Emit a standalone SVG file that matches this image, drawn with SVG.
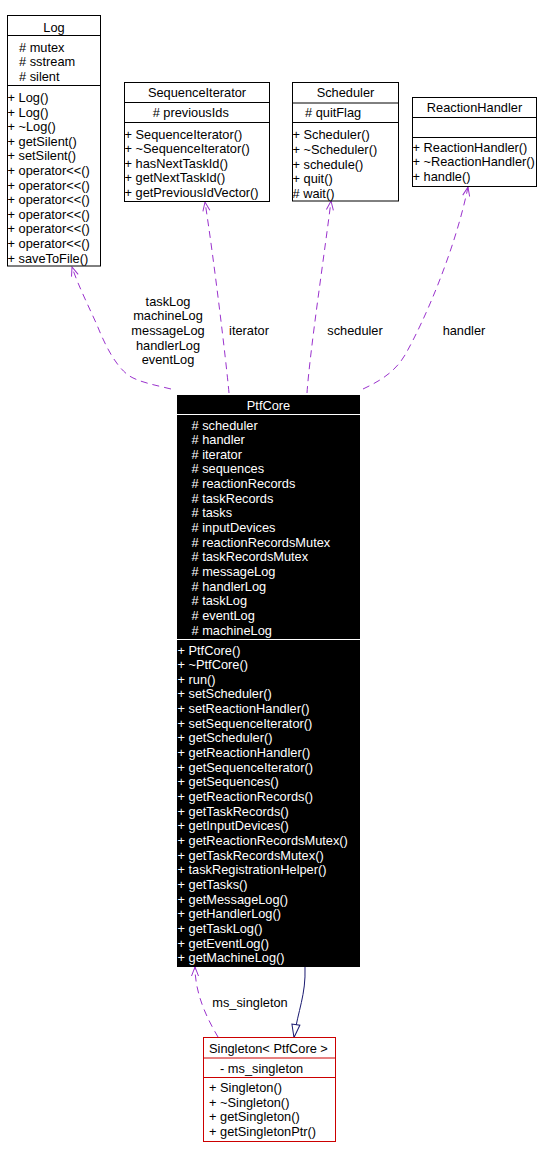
<svg xmlns="http://www.w3.org/2000/svg" width="550" height="1158" viewBox="0 0 550 1158">
<style>
text{font-family:"Liberation Sans",Arial,sans-serif;font-size:12.8px;fill:#000}
.c{text-anchor:middle}
.w{fill:#fff}
.box{fill:#fff;stroke:#000;stroke-width:1}
.sep{stroke:#000;stroke-width:1}
.wsep{stroke:#fff;stroke-width:1}
.dep{fill:none;stroke:#9a32cd;stroke-width:1;stroke-dasharray:7,5}
.inh{fill:none;stroke:#191970;stroke-width:1}
</style>
<defs>
<marker id="open" markerUnits="userSpaceOnUse" markerWidth="12" markerHeight="10" refX="9" refY="3.5" orient="auto" overflow="visible">
<path d="M0,0 L9,3.5 L0,7" fill="none" stroke="#9a32cd" stroke-width="1"/>
</marker>
<marker id="tri" markerUnits="userSpaceOnUse" markerWidth="16" markerHeight="12" refX="13" refY="4" orient="auto" overflow="visible">
<path d="M0,0 L13,4 L0,8 Z" fill="#fff" stroke="#191970" stroke-width="1"/>
</marker>
</defs>
<rect width="550" height="1158" fill="#fff"/>

<g id="connectors">
<path class="dep" d="M171,389 C155,385 138,382 128,375 C115,365 105,345 97,325 C88,305 78,285 72,267" marker-end="url(#open)"/>
<path class="dep" d="M229,393 C226,360 214,260 205,202" marker-end="url(#open)"/>
<path class="dep" d="M307,393 C310,350 325,250 331,201" marker-end="url(#open)"/>
<path class="dep" d="M363,389 C380,381 395,372 405,355 C425,320 455,250 468,187" marker-end="url(#open)"/>
<path class="dep" d="M218,1037 C208,1020 195,995 195,967" marker-end="url(#open)"/>
<path class="inh" d="M305,967 C306,995 298,1010 294,1037.5" marker-end="url(#tri)"/>
<g id="edge-labels">
<text class="c" x="168" y="305.5">taskLog</text>
<text class="c" x="168" y="320.2">machineLog</text>
<text class="c" x="168" y="334.9">messageLog</text>
<text class="c" x="168" y="349.6">handlerLog</text>
<text class="c" x="168" y="364.3">eventLog</text>
<text class="c" x="249" y="335">iterator</text>
<text class="c" x="355" y="335">scheduler</text>
<text class="c" x="464" y="335">handler</text>
<text class="c" x="250" y="1007">ms_singleton</text>
</g>
</g>

<g id="Log">
<rect class="box" x="7.5" y="15.5" width="93" height="250.5"/>
<line class="sep" x1="7.5" y1="35.5" x2="100.5" y2="35.5"/>
<line class="sep" x1="7.5" y1="85.5" x2="100.5" y2="85.5"/>
<text class="c" x="54" y="31.5">Log</text>
<text x="19" y="51.5"># mutex</text>
<text x="19" y="66.2"># sstream</text>
<text x="19" y="80.9"># silent</text>
<text x="7.5" y="102">+ Log()</text>
<text x="7.5" y="116.6">+ Log()</text>
<text x="7.5" y="131.2">+ ~Log()</text>
<text x="7.5" y="145.8">+ getSilent()</text>
<text x="7.5" y="160.4">+ setSilent()</text>
<text x="7.5" y="175">+ operator&lt;&lt;()</text>
<text x="7.5" y="189.6">+ operator&lt;&lt;()</text>
<text x="7.5" y="204.2">+ operator&lt;&lt;()</text>
<text x="7.5" y="218.8">+ operator&lt;&lt;()</text>
<text x="7.5" y="233.4">+ operator&lt;&lt;()</text>
<text x="7.5" y="248">+ operator&lt;&lt;()</text>
<text x="7.5" y="262.6">+ saveToFile()</text>
</g>

<g id="SequenceIterator">
<rect class="box" x="124.5" y="82.5" width="145" height="119"/>
<line class="sep" x1="124.5" y1="102.5" x2="269.5" y2="102.5"/>
<line class="sep" x1="124.5" y1="122.5" x2="269.5" y2="122.5"/>
<text class="c" x="197" y="96.8">SequenceIterator</text>
<text x="152.7" y="116.8"># previousIds</text>
<text x="124.5" y="138.5">+ SequenceIterator()</text>
<text x="124.5" y="153.1">+ ~SequenceIterator()</text>
<text x="124.5" y="167.7">+ hasNextTaskId()</text>
<text x="124.5" y="182.3">+ getNextTaskId()</text>
<text x="124.5" y="196.9">+ getPreviousIdVector()</text>
</g>

<g id="Scheduler">
<rect class="box" x="292.5" y="82.5" width="106" height="118.5"/>
<line class="sep" x1="292.5" y1="103" x2="398.5" y2="103"/>
<line class="sep" x1="292.5" y1="122.5" x2="398.5" y2="122.5"/>
<text class="c" x="345.5" y="97">Scheduler</text>
<text x="305" y="117"># quitFlag</text>
<text x="292.5" y="139.3">+ Scheduler()</text>
<text x="292.5" y="153.9">+ ~Scheduler()</text>
<text x="292.5" y="168.5">+ schedule()</text>
<text x="292.5" y="183.1">+ quit()</text>
<text x="292.5" y="197.7"># wait()</text>
</g>

<g id="ReactionHandler">
<rect class="box" x="412.5" y="97.5" width="124" height="89"/>
<line class="sep" x1="412.5" y1="117.5" x2="536.5" y2="117.5"/>
<line class="sep" x1="412.5" y1="137.5" x2="536.5" y2="137.5"/>
<text class="c" x="474.5" y="112">ReactionHandler</text>
<text x="412.5" y="151.5">+ ReactionHandler()</text>
<text x="412.5" y="166.1">+ ~ReactionHandler()</text>
<text x="412.5" y="180.7">+ handle()</text>
</g>

<g id="PtfCore">
<rect x="177" y="395" width="183" height="572" fill="#000"/>
<line class="wsep" x1="177" y1="414.5" x2="360" y2="414.5"/>
<line class="wsep" x1="177" y1="639.5" x2="360" y2="639.5"/>
<text class="c w" x="268.5" y="409.5">PtfCore</text>
<text class="w" x="191.5" y="429.5"># scheduler</text>
<text class="w" x="191.5" y="444.15"># handler</text>
<text class="w" x="191.5" y="458.8"># iterator</text>
<text class="w" x="191.5" y="473.45"># sequences</text>
<text class="w" x="191.5" y="488.1"># reactionRecords</text>
<text class="w" x="191.5" y="502.75"># taskRecords</text>
<text class="w" x="191.5" y="517.4"># tasks</text>
<text class="w" x="191.5" y="532.05"># inputDevices</text>
<text class="w" x="191.5" y="546.7"># reactionRecordsMutex</text>
<text class="w" x="191.5" y="561.35"># taskRecordsMutex</text>
<text class="w" x="191.5" y="576"># messageLog</text>
<text class="w" x="191.5" y="590.65"># handlerLog</text>
<text class="w" x="191.5" y="605.3"># taskLog</text>
<text class="w" x="191.5" y="619.95"># eventLog</text>
<text class="w" x="191.5" y="634.6"># machineLog</text>
<text class="w" x="177.5" y="654.5">+ PtfCore()</text>
<text class="w" x="177.5" y="669.15">+ ~PtfCore()</text>
<text class="w" x="177.5" y="683.8">+ run()</text>
<text class="w" x="177.5" y="698.45">+ setScheduler()</text>
<text class="w" x="177.5" y="713.1">+ setReactionHandler()</text>
<text class="w" x="177.5" y="727.75">+ setSequenceIterator()</text>
<text class="w" x="177.5" y="742.4">+ getScheduler()</text>
<text class="w" x="177.5" y="757.05">+ getReactionHandler()</text>
<text class="w" x="177.5" y="771.7">+ getSequenceIterator()</text>
<text class="w" x="177.5" y="786.35">+ getSequences()</text>
<text class="w" x="177.5" y="801">+ getReactionRecords()</text>
<text class="w" x="177.5" y="815.65">+ getTaskRecords()</text>
<text class="w" x="177.5" y="830.3">+ getInputDevices()</text>
<text class="w" x="177.5" y="844.95">+ getReactionRecordsMutex()</text>
<text class="w" x="177.5" y="859.6">+ getTaskRecordsMutex()</text>
<text class="w" x="177.5" y="874.25">+ taskRegistrationHelper()</text>
<text class="w" x="177.5" y="888.9">+ getTasks()</text>
<text class="w" x="177.5" y="903.55">+ getMessageLog()</text>
<text class="w" x="177.5" y="918.2">+ getHandlerLog()</text>
<text class="w" x="177.5" y="932.85">+ getTaskLog()</text>
<text class="w" x="177.5" y="947.5">+ getEventLog()</text>
<text class="w" x="177.5" y="962.15">+ getMachineLog()</text>
</g>

<g id="Singleton">
<rect x="203.5" y="1037.5" width="132" height="104" fill="#fff" stroke="#cc0000" stroke-width="1"/>
<line x1="203.5" y1="1058" x2="335.5" y2="1058" stroke="#cc0000"/>
<line x1="203.5" y1="1077.5" x2="335.5" y2="1077.5" stroke="#cc0000"/>
<text x="209" y="1053">Singleton&lt; PtfCore &gt;</text>
<text x="220" y="1072.5">- ms_singleton</text>
<text x="209" y="1092">+ Singleton()</text>
<text x="209" y="1106.6">+ ~Singleton()</text>
<text x="209" y="1121.2">+ getSingleton()</text>
<text x="209" y="1135.8">+ getSingletonPtr()</text>
</g>
</svg>
